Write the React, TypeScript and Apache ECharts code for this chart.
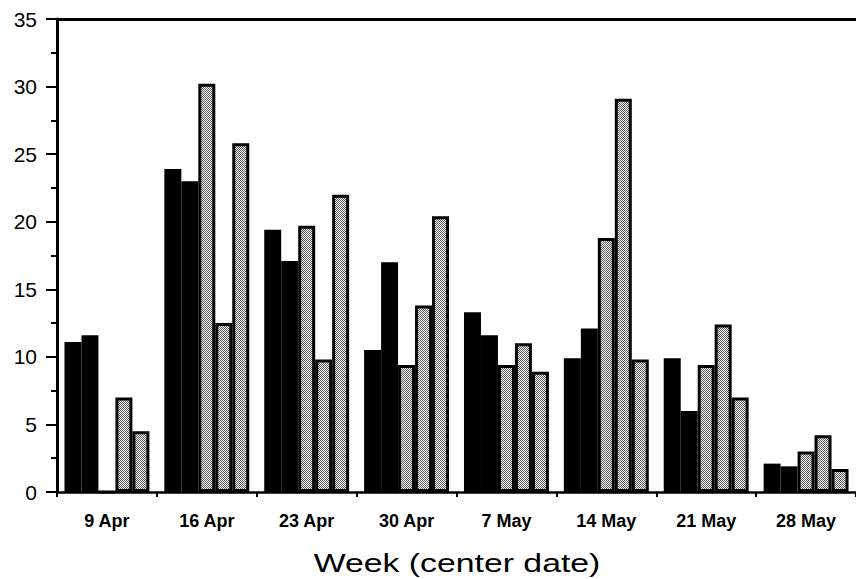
import React, { useEffect, useRef } from "react";
import * as echarts from "echarts";

const categories = ["9 Apr", "16 Apr", "23 Apr", "30 Apr", "7 May", "14 May", "21 May", "28 May"];
const black1 = [11.1, 23.9, 19.4, 10.5, 13.3, 9.9, 9.9, 2.1];
const black2 = [11.6, 23.0, 17.1, 17.0, 11.6, 12.1, 6.0, 1.9];
const gray1 = [0, 30.2, 19.7, 9.4, 9.4, 18.8, 9.4, 3.0];
const gray2 = [7.0, 12.5, 9.8, 13.8, 11.0, 29.1, 12.4, 4.2];
const gray3 = [4.5, 25.8, 22.0, 20.4, 8.9, 9.8, 7.0, 1.7];
const yTicks = { min: 0, max: 35, interval: 5 };
const xAxisName = "Week (center date)";

export default function App() {
  const ref = useRef<HTMLDivElement>(null);
  useEffect(() => {
    if (!ref.current) return;
    document.body.style.margin = "0";
    const chart = echarts.init(ref.current, undefined, { renderer: "svg" });
    const cv = document.createElement("canvas");
    cv.width = 2;
    cv.height = 2;
    const ctx = cv.getContext("2d")!;
    ctx.fillStyle = "#ffffff";
    ctx.fillRect(0, 0, 2, 2);
    ctx.fillStyle = "#5a5a5a";
    ctx.fillRect(0, 0, 1, 1);
    ctx.fillRect(1, 1, 1, 1);
    const pattern: any = { image: cv, repeat: "repeat" };
    const font = "'Liberation Sans', Arial, Helvetica, sans-serif";
    const blackSeries = (data: number[]) => ({
      type: "bar",
      data,
      barGap: "0%",
      barCategoryGap: "15%",
      itemStyle: { color: "#000" },
    });
    const graySeries = (data: number[]) => ({
      type: "bar",
      data,
      barGap: "0%",
      barCategoryGap: "15%",
      itemStyle: { color: pattern, borderColor: "#000", borderWidth: 3 },
    });
    chart.setOption({
      animation: false,
      backgroundColor: "#fff",
      grid: { left: 57, right: 0, top: 19, bottom: 87 },
      xAxis: [
        {
          type: "category",
          data: categories,
          position: "bottom",
          axisLine: { lineStyle: { color: "#000", width: 2.5 } },
          axisTick: { show: true, length: 5, lineStyle: { color: "#000", width: 2 } },
          axisLabel: { color: "#000", fontSize: 18, fontWeight: "bold", fontFamily: font, margin: 20 },
        },
        {
          type: "category",
          data: categories,
          position: "top",
          axisLine: { lineStyle: { color: "#000", width: 3 } },
          axisTick: { show: false },
          axisLabel: { show: false },
        },
      ],
      yAxis: {
        type: "value",
        min: yTicks.min,
        max: yTicks.max,
        interval: yTicks.interval,
        axisLine: { show: true, lineStyle: { color: "#000", width: 3 } },
        axisTick: { show: true, length: 11, lineStyle: { color: "#000", width: 2 } },
        minorTick: { show: true, splitNumber: 2, length: 6, lineStyle: { color: "#000", width: 2 } },
        splitLine: { show: false },
        axisLabel: { color: "#000", fontSize: 21, fontFamily: font, margin: 20 },
      },
      graphic: [
        {
          type: "text",
          x: 457,
          y: 563,
          scaleX: 1.3,
          style: {
            text: xAxisName,
            fill: "#000",
            fontSize: 26,
            fontFamily: font,
            textAlign: "center",
            textVerticalAlign: "middle",
          },
        },
      ],
      series: [
        blackSeries(black1),
        blackSeries(black2),
        graySeries(gray1),
        graySeries(gray2),
        graySeries(gray3),
      ],
    });
    return () => chart.dispose();
  }, []);
  return <div ref={ref} style={{ width: 856, height: 579 }} />;
}
